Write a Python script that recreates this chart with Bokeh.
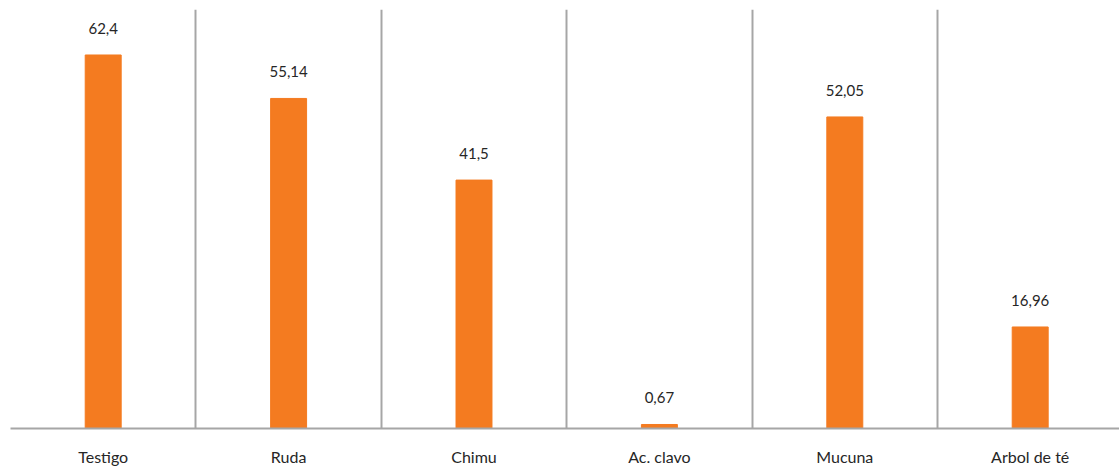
from bokeh.plotting import figure
from bokeh.models import ColumnDataSource, FixedTicker, Range1d
from bokeh.core.properties import value
from bokeh.embed import file_html
from bokeh.resources import INLINE

categories = ["Testigo", "Ruda", "Chimu", "Ac. clavo", "Mucuna", "Arbol de té"]
values = [62.4, 55.14, 41.5, 0.67, 52.05, 16.96]
value_labels = ["62,4", "55,14", "41,5", "0,67", "52,05", "16,96"]

x = [i + 0.5 for i in range(len(categories))]
src = ColumnDataSource(dict(x=x, top=values, lab=value_labels))

FONT = "Lato"
W, H = 1119, 469
LEFT = 10
frame_w = W - LEFT
cat_px = 185.4

p = figure(width=W, height=H, output_backend="svg", toolbar_location=None,
           x_range=Range1d(0, frame_w / cat_px), y_range=Range1d(0, 70),
           min_border_left=LEFT, min_border_right=0, min_border_top=9,
           min_border_bottom=41)
p.outline_line_color = None
p.background_fill_color = "white"
p.border_fill_color = "white"

p.vbar(x="x", top="top", width=0.194, bottom=0, color="#F47B20", source=src)
p.text(x="x", y="top", text="lab", source=src, y_offset=-21,
       text_align="center", text_baseline="bottom",
       text_font=value(FONT), text_font_size="15px", text_color="#262626")

p.yaxis.visible = False
p.ygrid.grid_line_color = None

p.xaxis.ticker = FixedTicker(ticks=x)
p.xaxis.major_label_overrides = {xi: c for xi, c in zip(x, categories)}
p.xaxis.major_tick_line_color = None
p.xaxis.major_tick_out = 0
p.xaxis.major_tick_in = 0
p.xaxis.minor_tick_line_color = None
p.xaxis.minor_tick_out = 0
p.xaxis.axis_line_color = "#a6a6a6"
p.xaxis.axis_line_width = 2
p.xaxis.major_label_standoff = 18
p.xaxis.major_label_text_font = FONT
p.xaxis.major_label_text_font_size = "16px"
p.xaxis.major_label_text_color = "#262626"

p.xgrid.ticker = FixedTicker(ticks=list(range(len(categories) + 1)))
p.xgrid.grid_line_color = "#a6a6a6"
p.xgrid.grid_line_width = 2

open("out.html", "w").write(file_html(p, INLINE))
